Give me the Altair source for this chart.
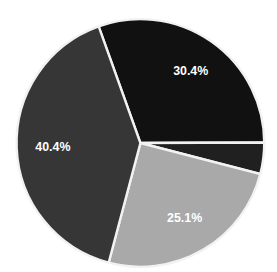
import altair as alt
import pandas as pd
import math

categories = ["A", "B", "C", "D"]
values = [30.4, 4.1, 25.1, 40.4]
labels = ["30.4%", "", "25.1%", "40.4%"]
colors = ["#111111", "#202020", "#a9a9a9", "#363636"]

df = pd.DataFrame({"cat": categories, "value": values, "label": labels,
                   "order": list(range(len(categories)))})

start = -19.7 * math.pi / 180
theta_scale = alt.Scale(range=[start, start + 2 * math.pi])

base = alt.Chart(df).encode(
    theta=alt.Theta("value:Q", stack=True, scale=theta_scale),
    order=alt.Order("order:Q"),
)

pie = base.mark_arc(outerRadius=130, stroke="#f2f2f2", strokeWidth=2.5).encode(
    color=alt.Color("cat:N", scale=alt.Scale(domain=categories, range=colors), legend=None),
    x=alt.value(139),
    y=alt.value(130),
)

text = base.mark_text(radius=92, fontSize=13, fontWeight="bold", font="Liberation Sans",
                      color="white").encode(
    text="label:N",
    x=alt.value(139),
    y=alt.value(130),
)

chart = (pie + text).properties(width=269, height=260, padding=0, background="white").configure_view(stroke=None)

chart.save("out.html", embed_options={"renderer": "svg", "actions": False})
